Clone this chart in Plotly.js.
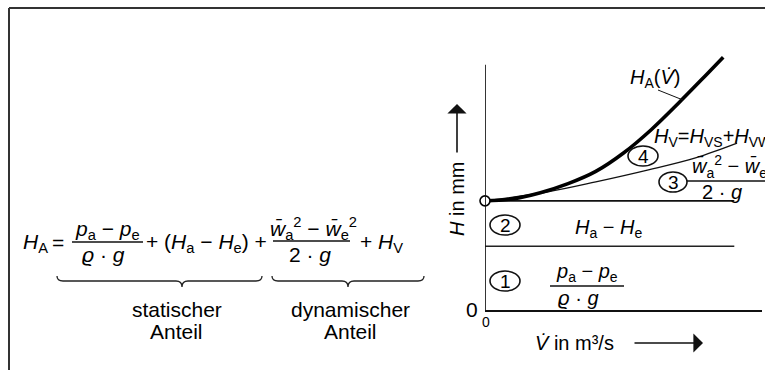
<!DOCTYPE html>
<html>
<head>
<meta charset="utf-8">
<script src="https://cdn.plot.ly/plotly-3.0.1.min.js"></script>
<style>html,body{margin:0;padding:0;background:#fff}</style>
</head>
<body>
<div id="chart" style="width:765px;height:370px"></div>
<script>
// Volume flow V (arbitrary units, 0 = origin)
const flow = [0, 9];
// Static head levels: pressure part and pressure + geodetic part
const pressureHead = [2.6, 2.6];
const staticHead = [4.45, 4.45];
// Static head + velocity head difference (thin curve)
const flowDyn = [0, 2.2, 4.0, 5.9, 7.6, 9.1];
const dynHead = [4.45, 4.8, 5.22, 5.71, 6.2, 6.8];
// System head H_A(V) including losses (thick curve)
const flowSys = [0, 1, 2, 3, 4, 5, 6, 7, 8, 8.6];
const sysHead = [4.45, 4.53, 4.78, 5.15, 5.65, 6.4, 7.35, 8.45, 9.6, 10.3];
// Origin point of the curves
const startFlow = [0];
const startHead = [4.45];

const W = 765, H = 370;
const px = X => X / W;
const py = Y => 1 - Y / H;
const FONT = 'Liberation Sans, Arial, sans-serif';

const traces = [
  {x: flow, y: pressureHead, mode: 'lines', line: {color: '#222', width: 1.4}, hoverinfo: 'skip'},
  {x: flow, y: staticHead, mode: 'lines', line: {color: '#111', width: 1.7}, hoverinfo: 'skip'},
  {x: flowDyn, y: dynHead, mode: 'lines', line: {color: '#111', width: 1.3, shape: 'spline', smoothing: 1}, hoverinfo: 'skip'},
  {x: flowSys, y: sysHead, mode: 'lines', line: {color: '#000', width: 3.6, shape: 'spline', smoothing: 1}, hoverinfo: 'skip'},
  {x: startFlow, y: startHead, mode: 'markers', cliponaxis: false,
   marker: {size: 10, color: '#fff', line: {color: '#000', width: 1.6}}, hoverinfo: 'skip'}
];

function txt(X, Y, text, size, extra) {
  return Object.assign({xref: 'paper', yref: 'paper', x: px(X), y: py(Y), text: text,
    showarrow: false, xanchor: 'center', yanchor: 'middle',
    font: {family: FONT, size: size || 21, color: '#000'}}, extra || {});
}
function hline(X0, X1, Y, w) {
  return {type: 'line', xref: 'paper', yref: 'paper', x0: px(X0), x1: px(X1), y0: py(Y), y1: py(Y),
    line: {color: '#111', width: w || 1.4}};
}
function ell(cx, cy, rx, ry) {
  return {type: 'circle', xref: 'paper', yref: 'paper', x0: px(cx - rx), x1: px(cx + rx),
    y0: py(cy + ry), y1: py(cy - ry), line: {color: '#111', width: 1.6}};
}
function brace(x0, x1, tip, yTop, yMid, yTip) {
  const P = (X, Y) => px(X).toFixed(5) + ',' + py(Y).toFixed(5);
  const r = 6;
  const d = 'M' + P(x0, yTop) + ' Q' + P(x0, yMid) + ' ' + P(x0 + r, yMid) +
    ' L' + P(tip - r, yMid) + ' Q' + P(tip, yMid) + ' ' + P(tip, yTip) +
    ' Q' + P(tip, yMid) + ' ' + P(tip + r, yMid) +
    ' L' + P(x1 - r, yMid) + ' Q' + P(x1, yMid) + ' ' + P(x1, yTop);
  return {type: 'path', xref: 'paper', yref: 'paper', path: d, line: {color: '#222', width: 1.3}};
}

const shapes = [
  // frame
  {type: 'line', xref: 'paper', yref: 'paper', x0: px(9), x1: px(765), y0: py(8), y1: py(8), line: {color: '#333', width: 2}},
  {type: 'line', xref: 'paper', yref: 'paper', x0: px(9), x1: px(9), y0: py(8), y1: py(370), line: {color: '#333', width: 2}},
  // vertical axis line
  {type: 'line', xref: 'x', yref: 'y', x0: 0, x1: 0, y0: 0, y1: 10, line: {color: '#111', width: 1.7}},
  // formula fraction bars
  hline(72, 143, 242), hline(273, 350, 241),
  // braces
  brace(57, 262, 182, 276, 281, 287),
  brace(272, 424, 348, 276, 281, 287),
  // chart region markers
  ell(643, 156, 15, 10), ell(673, 182, 14, 10), ell(505, 225, 15, 10), ell(505, 281, 15, 10),
  hline(687, 765, 181), hline(550, 624, 286),
  // leader to H_A label
  {type: 'line', xref: 'paper', yref: 'paper', x0: px(658), x1: px(683), y0: py(90), y1: py(100), line: {color: '#111', width: 1}}
];

const annotations = [
  // formula
  txt(35, 243, '<i>H</i><sub>A</sub>'),
  txt(58, 243, '='),
  txt(107, 230, '<i>p</i><sub>a</sub> − <i>p</i><sub>e</sub>'),
  txt(104, 254, '<i>ϱ</i> · <i>g</i>'),
  txt(206, 243, '+ (<i>H</i><sub>a</sub> − <i>H</i><sub>e</sub>) +'),
  txt(313, 228, '<i>w̄</i><sub>a</sub><sup>2</sup> − <i>w̄</i><sub>e</sub><sup>2</sup>'),
  txt(310, 254, '2 · <i>g</i>'),
  txt(381, 243, '+ <i>H</i><sub>V</sub>'),
  txt(177, 309, 'statischer', 21),
  txt(176, 331, 'Anteil', 21),
  txt(350, 309, 'dynamischer', 21),
  txt(350, 331, 'Anteil', 21),
  // chart labels
  txt(655, 78, '<i>H</i><sub>A</sub>(<i>V̇</i>)', 20),
  txt(652, 137, '<i>H</i><sub>V</sub>=<i>H</i><sub>VS</sub>+<i>H</i><sub>VW</sub>', 20, {xanchor: 'left'}),
  txt(643, 156, '4', 19),
  txt(673, 182, '3', 19),
  txt(690, 166, '<i>w̄</i><sub>a</sub><sup>2</sup> − <i>w̄</i><sub>e</sub><sup>2</sup>', 20, {xanchor: 'left'}),
  txt(722, 192, '2 · <i>g</i>', 20),
  txt(505, 225, '2', 19),
  txt(609, 228, '<i>H</i><sub>a</sub> − <i>H</i><sub>e</sub>', 20),
  txt(505, 281, '1', 19),
  txt(587, 272, '<i>p</i><sub>a</sub> − <i>p</i><sub>e</sub>', 20),
  txt(578, 298, '<i>ϱ</i> · <i>g</i>', 20),
  // axis labels
  txt(472, 309, '0', 21),
  txt(486, 322, '0', 14),
  txt(574, 343, '<i>V̇</i> in m³/s', 20),
  txt(457, 199, '<i>H</i> in mm', 20, {textangle: -90}),
  // axis arrows
  {xref: 'paper', yref: 'paper', x: px(703), y: py(343), ax: -70, ay: 0, text: '', showarrow: true,
   arrowhead: 1, arrowsize: 2, arrowwidth: 1.6, arrowcolor: '#111', standoff: 0},
  {xref: 'paper', yref: 'paper', x: px(457), y: py(104), ax: 0, ay: 50, text: '', showarrow: true,
   arrowhead: 1, arrowsize: 2, arrowwidth: 1.6, arrowcolor: '#111', standoff: 0}
];

const layout = {
  width: W, height: H,
  margin: {l: 0, r: 0, t: 0, b: 0},
  paper_bgcolor: '#fff', plot_bgcolor: '#fff',
  showlegend: false,
  xaxis: {domain: [485 / W, 762 / W], range: [0, 10], showline: true, linecolor: '#111', linewidth: 1.7,
          showgrid: false, zeroline: false, showticklabels: false, ticks: '', fixedrange: true},
  yaxis: {domain: [60 / H, 320 / H], range: [0, 10.6], showline: false,
          showgrid: false, zeroline: false, showticklabels: false, ticks: '', fixedrange: true},
  shapes: shapes,
  annotations: annotations
};

Plotly.newPlot('chart', traces, layout, {displayModeBar: false, staticPlot: true});
</script>
</body>
</html>
